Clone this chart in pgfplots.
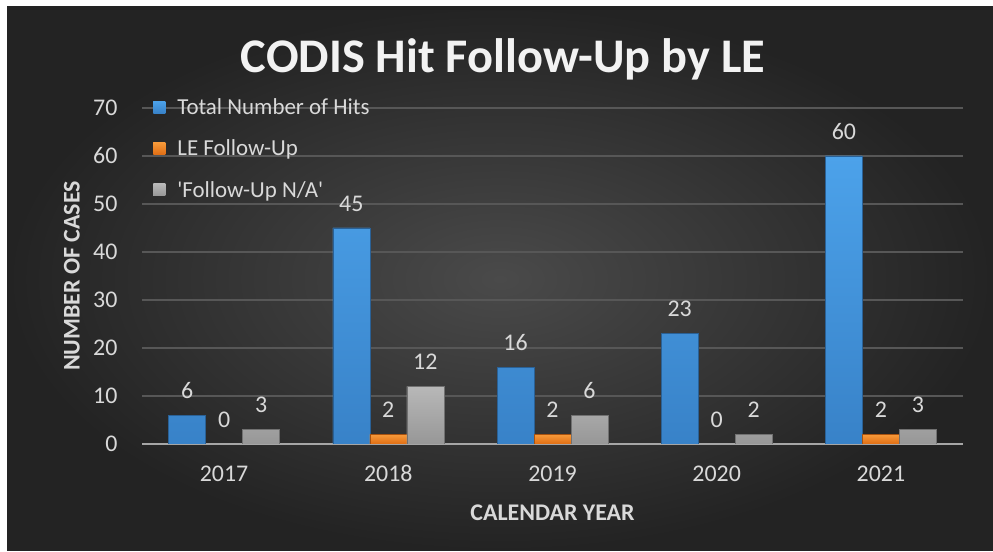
\documentclass[border=0pt]{standalone}
\usepackage{fontspec}
\setmainfont{Carlito}
\usepackage{pgfplots}
\pgfplotsset{compat=1.18}

\definecolor{bgin}{HTML}{4A4A4A}
\definecolor{bgout}{HTML}{232323}
\definecolor{titlec}{HTML}{F2F2F2}
\definecolor{textc}{HTML}{D9D9D9}
\definecolor{gridc}{HTML}{575757}
\definecolor{axisc}{HTML}{A6A6A6}
\definecolor{cblue}{HTML}{4193DC}
\definecolor{cbluetop}{HTML}{4CA2EA}
\definecolor{cbluebot}{HTML}{3882C8}
\definecolor{corange}{HTML}{EE7E1E}
\definecolor{corangetop}{HTML}{F79A3A}
\definecolor{corangebot}{HTML}{E06E14}
\definecolor{cgray}{HTML}{A3A3A3}
\definecolor{cgraytop}{HTML}{B8B8B8}
\definecolor{cgraybot}{HTML}{979797}

\begin{document}
\begin{tikzpicture}
\path[use as bounding box] (0,0) rectangle (993bp,552bp);
\fill[white] (0,0) rectangle (993bp,552bp);
\shade[inner color=bgin, outer color=bgout] (7bp,1bp) rectangle (993bp,545bp);
\node[font=\fontsize{48.5}{56}\selectfont\bfseries, text=titlec] at (503bp,493bp) {CODIS Hit Follow-Up by LE};

\begin{axis}[
    at={(142bp,108bp)}, anchor=south west,
    scale only axis, width=821bp, height=336bp,
    ybar=0pt, bar width=37bp,
    xmin=-0.5, xmax=4.5, ymin=0, ymax=70,
    xtick=data, xticklabels={2017,2018,2019,2020,2021},
    ytick={0,10,...,70},
    major tick length=0pt,
    axis x line*=bottom, axis y line*=left,
    x axis line style={draw=axisc, line width=2bp, -},
    y axis line style={draw=none},
    ymajorgrids, grid style={draw=gridc, line width=1.3bp},
    /pgf/number format/assume math mode=true,
    ticklabel style={font=\fontsize{24}{28}\selectfont, text=textc},
    yticklabel style={xshift=-21bp},
    xticklabel style={yshift=-18bp},
    xlabel={\textbf{CALENDAR YEAR}},
    ylabel={\textbf{NUMBER OF CASES}},
    label style={font=\fontsize{24}{28}\selectfont, text=textc},
    xlabel style={at={(axis description cs:0.5,-0.205)}, anchor=center},
    ylabel style={at={(axis description cs:-0.0853,0.5)}, anchor=center},
    nodes near coords,
    nodes near coords style={font=\fontsize{24}{28}\selectfont, text=textc, anchor=south, yshift=13bp},
    legend style={at={(axis description cs:0.01,1.041)}, anchor=north west,
        draw=none, fill=none, font=\fontsize{23}{27}\selectfont, text=textc,
        row sep=20bp, legend cell align=left},
    legend image code/.code={\fill[#1,draw=none] (0bp,-6bp) rectangle (12bp,6bp);
        \pgfpathmoveto{\pgfqpoint{22bp}{0bp}}\pgfusepath{discard}},
]
\addplot[fill=cblue, top color=cbluetop, bottom color=cbluebot, draw=cbluebot!75!black]
    coordinates {(0,6) (1,45) (2,16) (3,23) (4,60)};
\addplot[fill=corange, top color=corangetop, bottom color=corangebot, draw=corangebot!75!black]
    coordinates {(0,0) (1,2) (2,2) (3,0) (4,2)};
\addplot[fill=cgray, top color=cgraytop, bottom color=cgraybot, draw=cgraybot!75!black]
    coordinates {(0,3) (1,12) (2,6) (3,2) (4,3)};
\legend{Total Number of Hits, LE Follow-Up, \textquotesingle Follow-Up N/A\textquotesingle}
\end{axis}
\end{tikzpicture}
\end{document}
